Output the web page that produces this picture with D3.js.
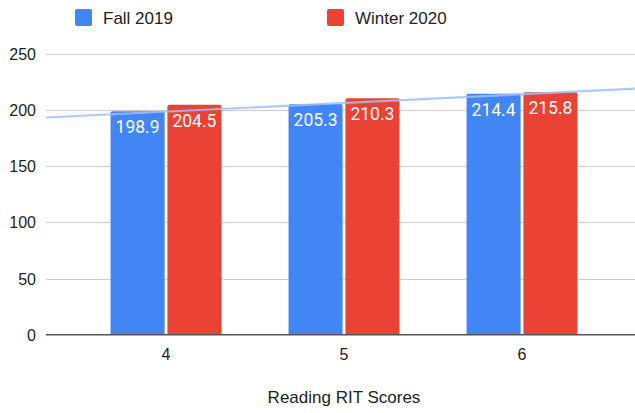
<!DOCTYPE html>
<html>
<head>
<meta charset="utf-8">
<script src="https://cdn.jsdelivr.net/npm/d3@7"></script>
<style>
  body { margin: 0; background: #fff; }
  svg { display: block; font-family: "Liberation Sans", Arial, sans-serif; }
</style>
</head>
<body>
<div id="chart"></div>
<script>
// data
var grades = ["4", "5", "6"];
var seriesNames = ["Fall 2019", "Winter 2020"];
var fall2019 = [198.9, 205.3, 214.4];
var winter2020 = [204.5, 210.3, 215.8];
var yTicks = [0, 50, 100, 150, 200, 250];

var width = 635, height = 413;
var colors = ["#4285f4", "#ea4335"];
var plotLeft = 46, plotRight = 635;

var svg = d3.select("#chart").append("svg")
    .attr("width", width)
    .attr("height", height);

var y = d3.scaleLinear().domain([0, 250]).range([334.7, 53.7]);

var x0 = d3.scaleBand().domain(grades).range([77, 611])
    .paddingInner(0.377).paddingOuter(0.1885);
var x1 = d3.scaleBand().domain(seriesNames).range([0, x0.bandwidth()])
    .paddingInner(0.05);

// gridlines
svg.append("g")
    .selectAll("line")
    .data(yTicks.filter(function (d) { return d > 0; }))
    .enter()
    .append("line")
    .attr("x1", plotLeft).attr("x2", plotRight)
    .attr("y1", function (d) { return Math.round(y(d)) + 0.5; })
    .attr("y2", function (d) { return Math.round(y(d)) + 0.5; })
    .attr("stroke", "#cccccc")
    .attr("stroke-width", 1);

// y labels
svg.append("g")
    .selectAll("text")
    .data(yTicks)
    .enter()
    .append("text")
    .attr("x", 36)
    .attr("y", function (d) { return y(d) + 6; })
    .attr("text-anchor", "end")
    .style("font-size", "16px")
    .style("fill", "#222")
    .text(function (d) { return d; });

// bars
var rows = grades.map(function (g, i) {
    return { grade: g, values: [fall2019[i], winter2020[i]] };
});

var groups = svg.append("g")
    .selectAll("g")
    .data(rows)
    .enter()
    .append("g")
    .attr("transform", function (d) { return "translate(" + x0(d.grade) + ",0)"; });

groups.selectAll("path")
    .data(function (d) {
        return d.values.map(function (v, j) { return { name: seriesNames[j], value: v, j: j }; });
    })
    .enter()
    .append("path")
    .attr("d", function (d) {
        var bx = x1(d.name), bw = x1.bandwidth(), top = y(d.value), bottom = y(0), r = 2;
        return "M" + bx + "," + bottom +
            "V" + (top + r) + "Q" + bx + "," + top + " " + (bx + r) + "," + top +
            "H" + (bx + bw - r) + "Q" + (bx + bw) + "," + top + " " + (bx + bw) + "," + (top + r) +
            "V" + bottom + "Z";
    })
    .attr("fill", function (d) { return colors[d.j]; });

// zero line
svg.append("line")
    .attr("x1", plotLeft).attr("x2", plotRight)
    .attr("y1", y(0)).attr("y2", y(0))
    .attr("stroke", "#555")
    .attr("stroke-width", 1.6);

// linear trendline for Fall 2019
var n = fall2019.length;
var xs = d3.range(n);
var mx = d3.mean(xs), my = d3.mean(fall2019);
var slope = d3.sum(xs, function (xi, i) { return (xi - mx) * (fall2019[i] - my); }) /
    d3.sum(xs, function (xi) { return (xi - mx) * (xi - mx); });
var intercept = my - slope * mx;
var step = x0.step();
var c0 = x0(grades[0]) + x0.bandwidth() / 2;
function trendAt(px) {
    var idx = (px - c0) / step;
    return intercept + slope * idx;
}
svg.append("line")
    .attr("x1", plotLeft).attr("x2", plotRight)
    .attr("y1", y(trendAt(plotLeft)))
    .attr("y2", y(trendAt(plotRight)))
    .attr("stroke", "#9fbff8")
    .attr("stroke-opacity", 0.85)
    .attr("stroke-width", 2.2);

// data labels
groups.selectAll("text")
    .data(function (d) {
        return d.values.map(function (v, j) { return { name: seriesNames[j], value: v }; });
    })
    .enter()
    .append("text")
    .attr("x", function (d) { return x1(d.name) + x1.bandwidth() / 2; })
    .attr("y", function (d) { return y(d.value) + 22; })
    .attr("text-anchor", "middle")
    .style("font-family", "Roboto, sans-serif")
    .style("font-size", "17.5px")
    .style("fill", "#fff")
    .text(function (d) { return d.value.toFixed(1); });

// x labels
svg.append("g")
    .selectAll("text")
    .data(grades)
    .enter()
    .append("text")
    .attr("x", function (d) { return x0(d) + x0.bandwidth() / 2; })
    .attr("y", 360)
    .attr("text-anchor", "middle")
    .style("font-size", "16px")
    .style("fill", "#222")
    .text(function (d) { return d; });

svg.append("text")
    .attr("x", 344)
    .attr("y", 403)
    .attr("text-anchor", "middle")
    .style("font-size", "17px")
    .style("fill", "#222")
    .text("Reading RIT Scores");

// legend
var legendX = [75, 327];
var legend = svg.append("g")
    .selectAll("g")
    .data(seriesNames)
    .enter()
    .append("g")
    .attr("transform", function (d, i) { return "translate(" + legendX[i] + ",9)"; });
legend.append("rect")
    .attr("width", 17).attr("height", 17)
    .attr("rx", 2)
    .attr("fill", function (d, i) { return colors[i]; });
legend.append("text")
    .attr("x", 28)
    .attr("y", 14.5)
    .style("font-size", "17px")
    .style("fill", "#222")
    .text(function (d) { return d; });
</script>
</body>
</html>
